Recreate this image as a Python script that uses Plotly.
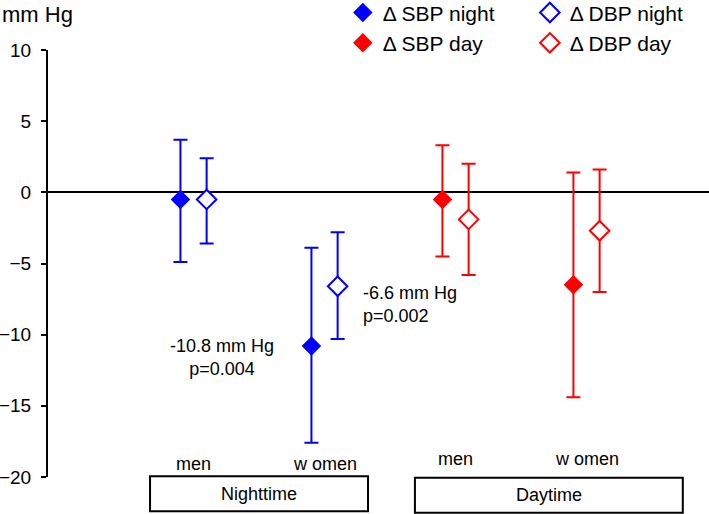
import plotly.graph_objects as go

# groups along the x axis (nighttime men/women, daytime men/women)
groups = ["men", "w omen"]
periods = ["Nighttime", "Daytime"]

# change in blood pressure (mm Hg): mean, upper and lower limit of error bar
sbp_night = [-0.5, -10.8]
sbp_night_hi = [3.7, -3.9]
sbp_night_lo = [-4.9, -17.6]

dbp_night = [-0.5, -6.6]
dbp_night_hi = [2.4, -2.8]
dbp_night_lo = [-3.6, -10.3]

sbp_day = [-0.5, -6.5]
sbp_day_hi = [3.3, 1.4]
sbp_day_lo = [-4.5, -14.4]

dbp_day = [-1.9, -2.7]
dbp_day_hi = [2.0, 1.6]
dbp_day_lo = [-5.8, -7.0]

BLUE = "#0000ff"
RED = "#ff0000"
FONT = "Arial, Liberation Sans, sans-serif"


def add_series(fig, xs, mean, hi, lo, name, color, filled, legend):
    fig.add_trace(go.Scatter(
        x=xs, y=mean, mode="markers", name=name, legend=legend,
        marker=dict(symbol="diamond", size=15,
                    color=color if filled else "white",
                    line=dict(color=color, width=0 if filled else 2)),
        error_y=dict(type="data", symmetric=False,
                     array=[h - m for h, m in zip(hi, mean)],
                     arrayminus=[m - l for m, l in zip(mean, lo)],
                     color=color, thickness=2, width=7),
        hoverinfo="skip"))


fig = go.Figure()
night_x = [0, 1]
day_x = [2, 3]
off = 0.1
add_series(fig, [x - off for x in night_x], sbp_night, sbp_night_hi, sbp_night_lo,
           "Δ SBP night", BLUE, True, "legend")
add_series(fig, [x - off for x in day_x], sbp_day, sbp_day_hi, sbp_day_lo,
           "Δ SBP day", RED, True, "legend")
add_series(fig, [x + off for x in night_x], dbp_night, dbp_night_hi, dbp_night_lo,
           "Δ DBP night", BLUE, False, "legend2")
add_series(fig, [x + off for x in day_x], dbp_day, dbp_day_hi, dbp_day_lo,
           "Δ DBP day", RED, False, "legend2")

annotations = [
    dict(text="mm Hg", xref="paper", yref="paper", x=-0.0726, y=1.082,
         xanchor="left", yanchor="middle", showarrow=False, font=dict(size=22)),
    dict(text="-10.8 mm Hg<br>p=0.004", x=0.22, y=-11.6, xanchor="center",
         yanchor="middle", showarrow=False, align="center"),
    dict(text="-6.6 mm Hg<br>p=0.002", x=1.28, y=-7.85, xanchor="left",
         yanchor="middle", showarrow=False, align="left"),
]
for i, g in enumerate(groups):
    annotations.append(dict(text=g, x=night_x[i], y=-19.1, showarrow=False,
                            xanchor="center", yanchor="middle"))
    annotations.append(dict(text=g, x=day_x[i], y=-18.75, showarrow=False,
                            xanchor="center", yanchor="middle"))

boxes = [(-0.332, 1.332, 0.002, -0.08), (1.69, 3.735, -0.002, -0.084)]
shapes = []
for (x0, x1, y0, y1), label in zip(boxes, periods):
    shapes.append(dict(type="rect", xref="x", yref="paper", x0=x0, x1=x1,
                       y0=y0, y1=y1, line=dict(color="black", width=2)))
    annotations.append(dict(text=label, xref="x", yref="paper", x=(x0 + x1) / 2,
                            y=(y0 + y1) / 2, showarrow=False,
                            xanchor="center", yanchor="middle"))

fig.update_layout(
    width=709, height=514,
    margin=dict(l=48, r=0, t=50, b=37, autoexpand=False),
    paper_bgcolor="white", plot_bgcolor="white",
    font=dict(family=FONT, size=18, color="black"),
    showlegend=True,
    legend=dict(x=0.446, y=1.135, xanchor="left", yanchor="top",
                bgcolor="rgba(0,0,0,0)", font=dict(size=21)),
    legend2=dict(x=0.729, y=1.135, xanchor="left", yanchor="top",
                 bgcolor="rgba(0,0,0,0)", font=dict(size=21)),
    annotations=annotations,
    shapes=shapes,
)
fig.update_xaxes(range=[-1.111, 3.935], visible=False)
fig.update_yaxes(range=[-20, 10], tickvals=[-20, -15, -10, -5, 0, 5, 10],
                 showgrid=False, showline=True, linecolor="black", linewidth=2,
                 ticks="outside", ticklen=5, tickwidth=2, tickcolor="black",
                 ticklabelstandoff=6, tickfont=dict(size=19),
                 zeroline=True, zerolinecolor="black", zerolinewidth=2)

# page body has an 8px default margin; drop it so the figure sits at the corner
fig.write_html("out.html", config={"displayModeBar": False},
               post_script="document.body.style.margin='0px';")
